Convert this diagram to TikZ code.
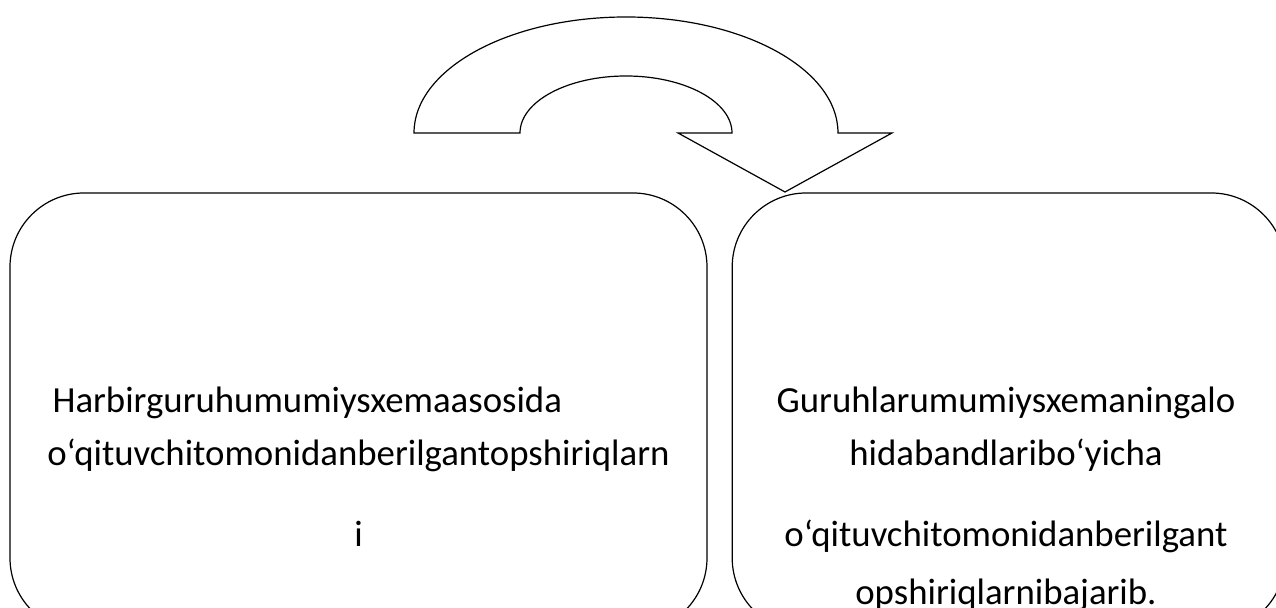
\documentclass[tikz,border=0pt]{standalone}
\usepackage{fontspec}
\setmainfont{Carlito}
\usepackage{tikz}
\usetikzlibrary{positioning}

\begin{document}
\begin{tikzpicture}[x=0.5pt,y=0.5pt,semithick,node distance=12pt]
\tikzstyle{card}=[draw=black,rounded corners=37pt,inner sep=0pt,minimum height=219.5pt]
\tikzstyle{line}=[inner sep=0pt]
\tikzset{font=\fontsize{18.4pt}{22}\selectfont}

        \useasboundingbox (0,0) rectangle (1276,608);
        \clip (0,0) rectangle (1276,608);

        % the two boxes
        \node[card,minimum width=348.5pt]          (lbox) at (358.5,195.5) {};
        \node[card,minimum width=276.5pt]          (rbox) [right=of lbox]  {};

        % curved arrow from left box to right box
        \draw (414,475) arc[start angle=180,end angle=0,x radius=212,y radius=116]
              -- (892,475) -- (785,416) -- (678,475) -- (732,475)
              arc[start angle=0,end angle=180,x radius=106,y radius=57] -- cycle;

        % text of the left box
        \node[line,anchor=base]                    (l2) at (358.5,142) {o‘qituvchitomonidanberilgantopshiriqlarn};
        \node[line,anchor=base west]               (l1) at (52,195)    {Harbirguruhumumiysxemaasosida};
        \node[line,anchor=base]                    (l3) at (358.5,61)  {i};

        % text of the right box
        \node[line,anchor=base]                    (r1) at (1006,195)  {Guruhlarumumiysxemaningalo};
        \node[line,anchor=base]                    (r2) at (1006,142)  {hidabandlaribo‘yicha};
        \node[line,anchor=base]                    (r3) at (1006,61)   {o‘qituvchitomonidanberilgant};
        \node[line,anchor=base]                    (r4) at (1006,3)    {opshiriqlarnibajarib.};

\end{tikzpicture}
\end{document}
